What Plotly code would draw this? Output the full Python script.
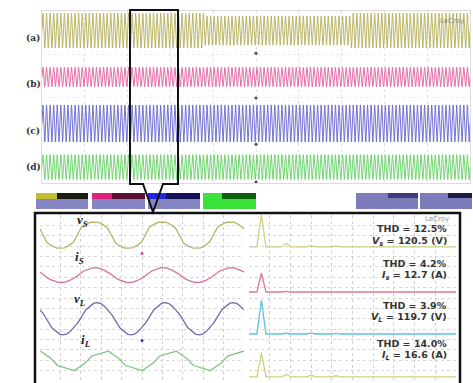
import numpy as np
import plotly.graph_objects as go

W, H = 473, 383

# ---------------- overview record: four channels ----------------
overview_tags = ["(a)", "(b)", "(c)", "(d)"]
overview_colors = ["#b4ae56", "#e4609f", "#6464d0", "#64d064"]
overview_offset_div = [3.09, 0.93, -1.23, -3.26]
overview_amp_div = [0.81, 0.45, 0.86, 0.58]
overview_cycles = 120
sag_window_div = [3.8, 7.2]      # channel (a) amplitude dip
sag_depth = 0.84

# ---------------- zoomed waveforms (50 ms window) ----------------
harmonic_orders = [1, 3, 5, 7]
detail_names = ["v<sub>S</sub>", "i<sub>S</sub>", "v<sub>L</sub>", "i<sub>L</sub>"]
detail_colors = ["#b2b26a", "#d4709c", "#6c6ca6", "#84c284"]
detail_offset_div = [6.06, 2.2, -2.0, -6.06]
detail_amp_div = [1.25, 0.72, 1.55, 0.96]
detail_zero_ms = [9.1, 9.3, 9.8, 11.6]          # rising zero crossing
vs_harmonics = [1.0, 0.115, 0.040, 0.025]
is_harmonics = [1.0, 0.030, 0.025, 0.015]
vl_harmonics = [1.0, 0.025, 0.025, 0.017]
il_harmonics = [1.0, 0.110, 0.070, 0.050]
vs_phase = [0, 0, 0, 0]
is_phase = [0, 0, 0, 0]
vl_phase = [0, 0, 0, 0]
il_phase = [0, 70, -40, 30]
harmonic_sets = [vs_harmonics, is_harmonics, vl_harmonics, il_harmonics]
phase_sets = [vs_phase, is_phase, vl_phase, il_phase]

# ---------------- spectra ----------------
spectrum_colors = ["#d2ce86", "#e07898", "#5cc2da", "#d4d07a"]
spectrum_base_div = [4.92, 0.58, -3.47, -7.61]
spectrum_fund_div = [3.08, 1.83, 3.28, 2.31]
fundamental_hz = 60
thd_values = [12.5, 4.2, 3.9, 14.0]
rms_names = ["V<sub>s</sub>", "I<sub>s</sub>", "V<sub>L</sub>", "I<sub>L</sub>"]
rms_values = [120.5, 12.7, 119.7, 16.6]
rms_units = ["V", "A", "V", "A"]


def px(x):
    return x / W


def py(y):
    return 1 - y / H


fig = go.Figure()

# overview traces (only channel (a) carries the amplitude dip)
t_div = np.linspace(0, 10, overview_cycles * 16 + 1)
for i in range(4):
    env = np.ones_like(t_div)
    if i == 0:
        env = np.where((t_div > sag_window_div[0]) & (t_div < sag_window_div[1]), sag_depth, 1.0)
    y = overview_offset_div[i] + overview_amp_div[i] * env * np.sin(2 * np.pi * overview_cycles * t_div / 10)
    fig.add_trace(go.Scatter(x=t_div, y=y, mode="lines", line=dict(color=overview_colors[i], width=0.9),
                             xaxis="x", yaxis="y", hoverinfo="skip", showlegend=False))

# zoomed waveforms
t_ms = np.linspace(0, 50, 1201)
omega = 2 * np.pi * fundamental_hz / 1000.0
for i in range(4):
    th = omega * (t_ms - detail_zero_ms[i])
    wave = np.zeros_like(t_ms)
    for k, h, ph in zip(harmonic_orders, harmonic_sets[i], phase_sets[i]):
        wave += h * np.sin(k * th + np.deg2rad(ph))
    wave /= np.abs(wave).max()
    fig.add_trace(go.Scatter(x=t_ms, y=detail_offset_div[i] + detail_amp_div[i] * wave, mode="lines",
                             line=dict(color=detail_colors[i], width=1.3),
                             xaxis="x2", yaxis="y2", hoverinfo="skip", showlegend=False))

# spectra
half_w = 22
for i in range(4):
    fx, fy = [0], [0.0]
    for k, h in zip(harmonic_orders, harmonic_sets[i]):
        f = k * fundamental_hz
        fx += [f - half_w, f, f + half_w]
        fy += [0.0, h * spectrum_fund_div[i], 0.0]
    fx.append(1000)
    fy.append(0.0)
    fig.add_trace(go.Scatter(x=fx, y=np.array(fy) + spectrum_base_div[i], mode="lines",
                             line=dict(color=spectrum_colors[i], width=1.3),
                             xaxis="x3", yaxis="y3", hoverinfo="skip", showlegend=False))

# trigger markers
fig.add_trace(go.Scatter(x=[5, 5, 5, 5], y=[2.03, -0.05, -2.2, -3.95], mode="markers",
                         marker=dict(color="#444", size=3), xaxis="x", yaxis="y",
                         hoverinfo="skip", showlegend=False))
fig.add_trace(go.Scatter(x=[25, 25], y=[4.3, -4.1], mode="markers",
                         marker=dict(color=["#d05090", "#3a3aa0"], size=3), xaxis="x2", yaxis="y2",
                         hoverinfo="skip", showlegend=False))

grid_common = dict(showticklabels=False, zeroline=False, ticks="", showgrid=True,
                   griddash="dot", gridwidth=1)

fig.update_layout(
    width=W, height=H, margin=dict(l=0, r=0, t=0, b=0),
    paper_bgcolor="white", plot_bgcolor="white", showlegend=False,
    xaxis=dict(domain=[px(42), px(470)], range=[0, 10], dtick=1, gridcolor="#e2e2e2",
               showline=True, linecolor="#dcdcdc", mirror=True, **grid_common),
    yaxis=dict(domain=[py(183), py(11)], range=[-4, 4], dtick=1, gridcolor="#ececec",
               showline=True, linecolor="#dcdcdc", mirror=True, **grid_common),
    xaxis2=dict(domain=[px(40), px(244)], range=[0, 50], dtick=5, gridcolor="#cfcfcf", **grid_common),
    yaxis2=dict(domain=[py(381), py(215)], range=[-8, 8], dtick=1, gridcolor="#d8d8d8", **grid_common),
    xaxis3=dict(domain=[px(249), px(456)], range=[0, 1000], dtick=100, gridcolor="#cfcfcf", **grid_common),
    yaxis3=dict(domain=[py(381), py(215)], range=[-8, 8], dtick=1, gridcolor="#d8d8d8", **grid_common),
)

shapes = []


def box(x0, x1, y0, y1, color):
    shapes.append(dict(type="rect", xref="paper", yref="paper", x0=px(x0), x1=px(x1),
                       y0=py(y1), y1=py(y0), fillcolor=color, line=dict(width=0), layer="above"))


# status bar boxes
lav = "#8486c4"
box(36, 88, 193, 209, lav); box(36, 57, 193, 199, "#c4bc30"); box(57, 88, 193, 199, "#1c1c14")
box(92, 145, 193, 209, lav); box(92, 112, 193, 199, "#e0207c"); box(112, 145, 193, 199, "#5a1030")
box(148, 200, 193, 209, lav); box(148, 166, 193, 199, "#2424e6"); box(166, 200, 193, 199, "#12125c")
box(203, 256, 193, 209, "#3ae23a"); box(222, 256, 193, 199, "#0e5e0e")
box(356, 418, 193, 209, "#7c7cbc"); box(388, 418, 193, 198, "#3c3c78")
box(420, 472, 193, 209, "#7c7cbc"); box(448, 472, 193, 198, "#1c1c40")

# callout frame with arrow
path = (f"M {px(130)},{py(10)} L {px(178)},{py(10)} L {px(178)},{py(184)} L {px(163)},{py(184)} "
        f"L {px(153)},{py(212)} L {px(143)},{py(184)} L {px(130)},{py(184)} Z")
shapes.append(dict(type="path", xref="paper", yref="paper", path=path,
                   line=dict(color="#111", width=2), layer="above"))
# detail panel border
shapes.append(dict(type="rect", xref="paper", yref="paper", x0=px(35), x1=px(460), y0=py(385), y1=py(213),
                   line=dict(color="#111", width=2.5), layer="above"))
fig.update_layout(shapes=shapes)

ann = []
label_y = [31, 77, 124, 167]
for tag, yy in zip(overview_tags, label_y):
    ann.append(dict(x=px(24), y=py(yy), xref="paper", yref="paper", text=tag,
                    showarrow=False, font=dict(family="DejaVu Serif", size=9, color="#333", weight="bold")))

name_pos = [(75, 220), (73, 268), (72, 310), (79, 351)]
for name, (xx, yy) in zip(detail_names, name_pos):
    ann.append(dict(x=px(xx), y=py(yy), xref="paper", yref="paper", text=name,
                    showarrow=False, font=dict(family="Liberation Serif", size=13, color="#222",
                                               weight="bold", style="italic")))

thd_y = [(228, 241), (271, 284), (313, 326), (351, 364)]
for thd, nm, val, unit, (y1, y2) in zip(thd_values, rms_names, rms_values, rms_units, thd_y):
    ann.append(dict(x=px(449), y=py(y1), xref="paper", yref="paper", xanchor="right",
                    text=f"THD = {thd:.1f}%", showarrow=False,
                    font=dict(family="DejaVu Sans", size=9.5, color="#333", weight="bold")))
    ann.append(dict(x=px(449), y=py(y2), xref="paper", yref="paper", xanchor="right",
                    text=f"<i>{nm}</i> = {val:.1f} ({unit})", showarrow=False,
                    font=dict(family="DejaVu Sans", size=9.5, color="#333", weight="bold")))

ann.append(dict(x=px(466), y=py(15), xref="paper", yref="paper", xanchor="right", text="LeCroy",
                showarrow=False, font=dict(family="DejaVu Sans", size=7, color="#888")))
ann.append(dict(x=px(451), y=py(219), xref="paper", yref="paper", xanchor="right", text="LeCroy",
                showarrow=False, font=dict(family="DejaVu Sans", size=7, color="#999")))
fig.update_layout(annotations=ann)

fig.write_html("out.html")
